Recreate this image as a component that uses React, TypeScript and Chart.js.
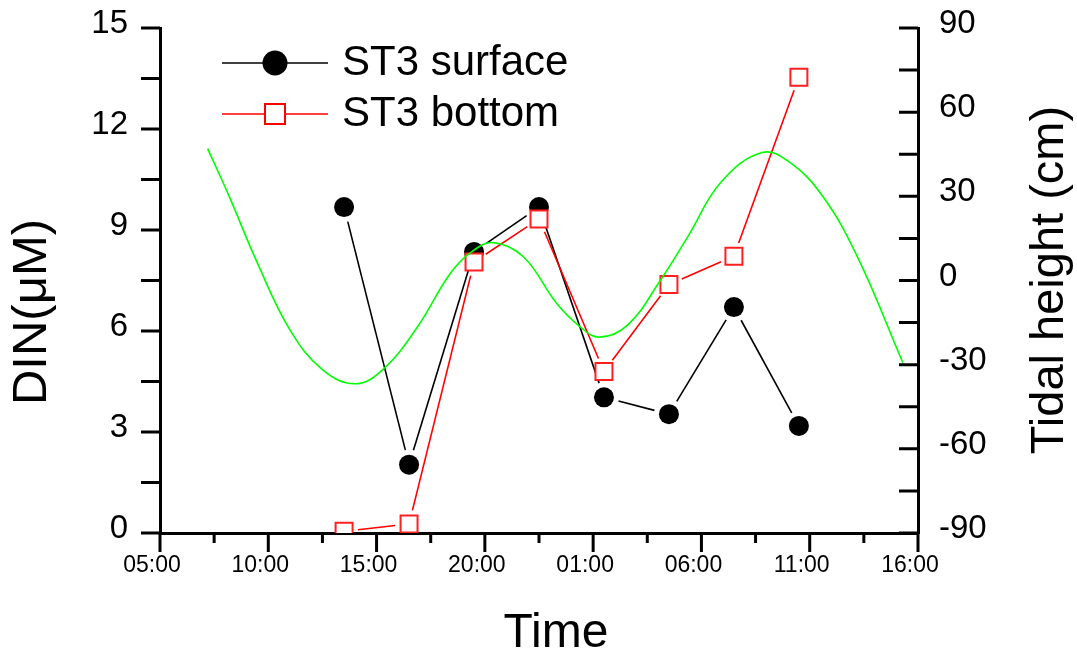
import React, { useEffect, useRef } from "react";
import { Chart, registerables } from "chart.js";

Chart.register(...registerables);

// ---- data (hours after 05:00 on day 1) ----
const sampleHours = [8.5, 11.5, 14.5, 17.5, 20.5, 23.5, 26.5, 29.5];
const surfaceDIN = [9.68, 2.03, 8.35, 9.68, 4.03, 3.53, 6.71, 3.18];
const bottomDIN = [0.05, 0.27, 8.05, 9.33, 4.8, 7.38, 8.22, 13.54];

const tideHours = [
  2.2, 3.2, 4.5, 6.0, 7.5, 9.0, 10.3, 11.9, 13.4, 14.4, 15.4, 16.8, 18.3, 19.4, 20.3, 21.6, 23.1, 24.4, 25.9, 27.8,
  29.1, 30.6, 32.2, 34.3,
];
const tideHeight = [
  47.0, 29.9, 6.2, -17.6, -31.8, -36.8, -31.7, -16.4, 2.5, 10.3, 13.5, 8.3, -8.0, -16.5, -20.2, -15.8, 0.0, 16.0, 35.0,
  45.6, 42.0, 30.0, 8.5, -29.3,
];

const seriesNames = ["ST3 surface", "ST3 bottom"];
const xTitle = "Time";
const yTitle = "DIN(\u03bcM)";
const y2Title = "Tidal height (cm)";
const startClockHour = 5;

const FONT = "'Liberation Sans', Arial, Helvetica, sans-serif";

function gapDash(gap: number) {
  return (ctx: any) => {
    const dx = ctx.p1.x - ctx.p0.x;
    const dy = ctx.p1.y - ctx.p0.y;
    const L = Math.hypot(dx, dy);
    if (L <= 2 * gap) return [0, L + 10];
    return [0, gap, L - 2 * gap, gap + 10000];
  };
}

const decorPlugin = {
  id: "decor",
  afterDraw(chart: any) {
    const { ctx, chartArea: a, scales } = chart;
    ctx.save();
    ctx.strokeStyle = "#000";
    ctx.lineWidth = 3;
    ctx.lineCap = "butt";
    ctx.beginPath();
    for (const t of scales.y.ticks) {
      const p = scales.y.getPixelForValue(t.value);
      ctx.moveTo(a.left - 19, p);
      ctx.lineTo(a.left, p);
    }
    for (const t of scales.y2.ticks) {
      const p = scales.y2.getPixelForValue(t.value);
      ctx.moveTo(a.right - 19, p);
      ctx.lineTo(a.right, p);
    }
    for (const t of scales.x.ticks) {
      const p = scales.x.getPixelForValue(t.value);
      const major = Math.abs(t.value % 5) < 1e-6;
      ctx.moveTo(p, a.bottom);
      ctx.lineTo(p, a.bottom + (major ? 19 : 10));
    }
    ctx.stroke();

    ctx.fillStyle = "#000";
    ctx.textAlign = "center";
    ctx.textBaseline = "middle";
    ctx.font = `49px ${FONT}`;
    ctx.save();
    ctx.translate(32, 312);
    ctx.rotate(-Math.PI / 2);
    ctx.fillText(yTitle, 0, 0);
    ctx.restore();
    ctx.font = `47px ${FONT}`;
    ctx.save();
    ctx.translate(1050, 280);
    ctx.rotate(-Math.PI / 2);
    ctx.fillText(y2Title, 0, 0);
    ctx.restore();
    ctx.font = `48px ${FONT}`;
    ctx.fillText(xTitle, 556, 634);

    const rows = [63, 114];
    ctx.lineWidth = 1.5;
    ctx.strokeStyle = "#000";
    ctx.beginPath();
    ctx.moveTo(222, rows[0]);
    ctx.lineTo(328, rows[0]);
    ctx.stroke();
    ctx.fillStyle = "#000";
    ctx.beginPath();
    ctx.arc(275, rows[0], 12.5, 0, Math.PI * 2);
    ctx.fill();
    ctx.strokeStyle = "#ff0000";
    ctx.beginPath();
    ctx.moveTo(222, rows[1]);
    ctx.lineTo(328, rows[1]);
    ctx.stroke();
    ctx.fillStyle = "#fff";
    ctx.fillRect(265, rows[1] - 10, 20, 20);
    ctx.lineWidth = 2;
    ctx.strokeRect(265, rows[1] - 10, 20, 20);

    ctx.fillStyle = "#000";
    ctx.textAlign = "left";
    ctx.font = `42px ${FONT}`;
    ctx.fillText(seriesNames[0], 342, rows[0]);
    ctx.fillText(seriesNames[1], 342, rows[1]);
    ctx.restore();
  },
};

function zeroPad(s: any) {
  s.paddingTop = 0;
  s.paddingBottom = 0;
  s.paddingLeft = 0;
  s.paddingRight = 0;
}

export default function App() {
  const ref = useRef<HTMLCanvasElement | null>(null);

  useEffect(() => {
    if (!ref.current) return;
    const surface = sampleHours.map((h, i) => ({ x: h, y: surfaceDIN[i] }));
    const bottom = sampleHours.map((h, i) => ({ x: h, y: bottomDIN[i] }));
    const tide = tideHours.map((h, i) => ({ x: h, y: tideHeight[i] }));

    const chart = new Chart(ref.current, {
      type: "line",
      data: {
        datasets: [
          {
            label: "Tide",
            data: tide,
            yAxisID: "y2",
            borderColor: "#00ff00",
            borderWidth: 1.6,
            pointRadius: 0,
            tension: 0.4,
            fill: false,
          },
          {
            label: seriesNames[1],
            data: bottom,
            yAxisID: "y",
            borderColor: "#ff0000",
            borderWidth: 1.6,
            pointStyle: "rect",
            pointRadius: 12,
            pointBorderWidth: 2,
            pointBackgroundColor: "#ffffff",
            pointBorderColor: "#ff2020",
            segment: { borderDash: gapDash(14) },
            fill: false,
          },
          {
            label: seriesNames[0],
            data: surface,
            yAxisID: "y",
            borderColor: "#000000",
            borderWidth: 1.6,
            pointStyle: "circle",
            pointRadius: 10,
            pointBorderWidth: 0,
            pointBackgroundColor: "#000000",
            pointBorderColor: "#000000",
            segment: { borderDash: gapDash(15) },
            fill: false,
          },
        ],
      } as any,
      options: {
        responsive: false,
        animation: false,
        devicePixelRatio: 1,
        layout: { padding: { top: 28, left: 0, right: 0, bottom: 0 } },
        plugins: { legend: { display: false }, tooltip: { enabled: false } },
        scales: {
          x: {
            type: "linear",
            min: 0,
            max: 35,
            grid: { display: false, drawTicks: false },
            border: { display: true, color: "#000", width: 3 },
            afterFit: (s: any) => {
              s.height = 123;
              zeroPad(s);
            },
            ticks: {
              stepSize: 2.5,
              autoSkip: false,
              maxTicksLimit: 40,
              maxRotation: 0,
              padding: 19,
              labelOffset: -8,
              color: "#000",
              font: { family: FONT, size: 23 },
              callback: (v: any) => {
                const n = Number(v);
                if (Math.abs(n % 5) > 1e-6) return "";
                const hr = (startClockHour + n) % 24;
                return String(hr).padStart(2, "0") + ":00";
              },
            },
          },
          y: {
            type: "linear",
            position: "left",
            min: 0,
            max: 15,
            grid: { display: false, drawTicks: false },
            border: { display: true, color: "#000", width: 3 },
            afterFit: (s: any) => {
              s.width = 160;
              zeroPad(s);
            },
            ticks: {
              stepSize: 1.5,
              autoSkip: false,
              maxTicksLimit: 40,
              padding: 32,
              labelOffset: -4,
              color: "#000",
              font: { family: FONT, size: 33 },
              callback: (v: any) => {
                const n = Number(v);
                return Math.abs(n % 3) < 1e-6 ? String(Math.round(n)) : "";
              },
            },
          },
          y2: {
            type: "linear",
            position: "right",
            min: -90,
            max: 90,
            grid: { display: false, drawTicks: false },
            border: { display: true, color: "#000", width: 3 },
            afterFit: (s: any) => {
              s.width = 159;
              zeroPad(s);
            },
            ticks: {
              stepSize: 15,
              autoSkip: false,
              maxTicksLimit: 40,
              padding: 21,
              labelOffset: -4,
              color: "#000",
              font: { family: FONT, size: 33 },
              callback: (v: any) => {
                const n = Number(v);
                return Math.abs(n % 30) < 1e-6 ? String(Math.round(n)) : "";
              },
            },
          },
        },
      } as any,
      plugins: [decorPlugin],
    });
    return () => chart.destroy();
  }, []);

  return (
    <div
      style={{
        position: "fixed",
        left: 0,
        top: 0,
        width: 1077,
        height: 656,
        background: "#fff",
      }}
    >
      <canvas ref={ref} width={1077} height={656} style={{ width: 1077, height: 656, display: "block" }} />
    </div>
  );
}
